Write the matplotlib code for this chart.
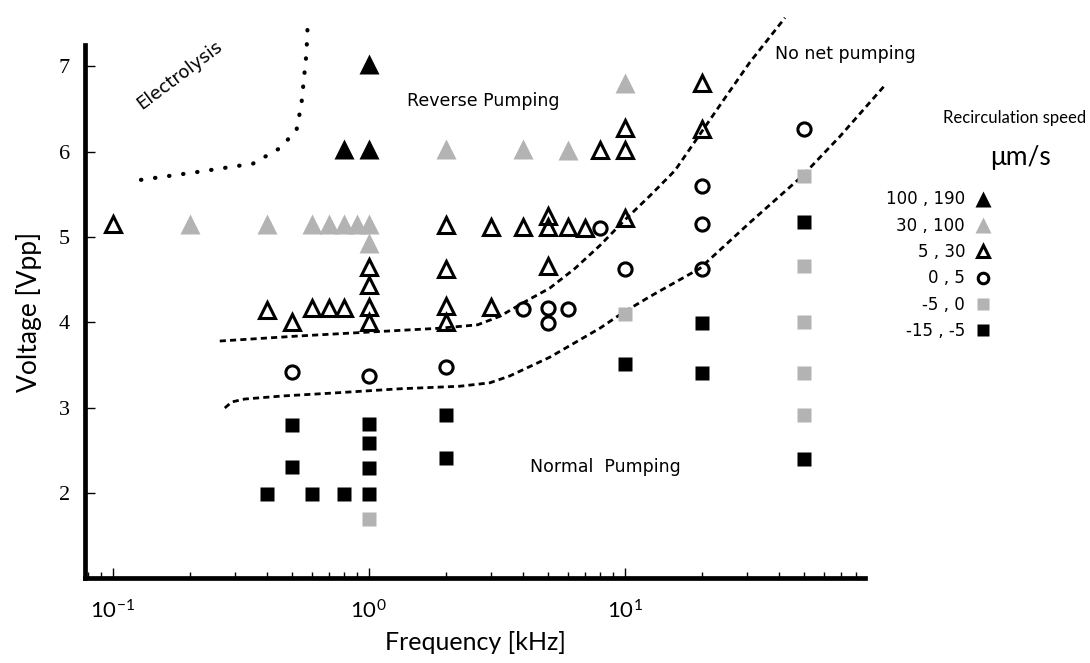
import matplotlib
matplotlib.use("Agg")
import matplotlib.pyplot as plt
from matplotlib.ticker import LogLocator, LogFormatterMathtext, NullFormatter

plt.rcParams['mathtext.fontset'] = 'stix'
plt.rcParams['font.family'] = ['Lato', 'DejaVu Sans']

# recirculation speed classes: (frequency kHz, voltage Vpp)
fast_x = [0.8, 1, 1]
fast_y = [6.03, 6.03, 7.03]

high_x = [0.2, 0.4, 0.6, 0.7, 0.8, 0.9, 1, 1, 2, 4, 6, 10]
high_y = [5.15, 5.15, 5.15, 5.15, 5.15, 5.15, 5.15, 4.93, 6.03, 6.03, 6.02, 6.8]

mid_x = [0.1, 0.4, 0.5, 0.6, 0.7, 0.8, 1, 1, 1, 1, 2, 2, 2, 2, 3, 3, 4,
         5, 5, 5, 6, 7, 8, 10, 10, 10, 20, 20]
mid_y = [5.15, 4.14, 4.0, 4.17, 4.17, 4.17, 4.65, 4.44, 4.18, 4.0, 5.14, 4.63,
         4.19, 4.0, 5.12, 4.18, 5.12, 5.25, 5.12, 4.66, 5.12, 5.1, 6.02, 6.02,
         6.28, 5.22, 6.8, 6.27]

low_x = [0.5, 1, 2, 4, 5, 5, 6, 8, 10, 20, 20, 20, 50]
low_y = [3.42, 3.37, 3.48, 4.16, 4.17, 3.99, 4.15, 5.1, 4.62, 5.6, 5.15, 4.63, 6.27]

neg_x = [1, 10, 50, 50, 50, 50, 50]
neg_y = [1.69, 4.1, 5.72, 4.66, 4.0, 3.4, 2.91]

back_x = [0.4, 0.5, 0.5, 0.6, 0.8, 1, 1, 1, 1, 2, 2, 10, 20, 20, 50, 50]
back_y = [1.99, 2.8, 2.3, 1.99, 1.99, 2.81, 2.58, 2.29, 1.99, 2.91, 2.41, 3.51,
          3.99, 3.4, 5.18, 2.4]

legend_labels = ['100 , 190', '30 , 100', '5 , 30', '0 , 5', '-5 , 0', '-15 , -5']

# boundary lines
upper_x = [0.262, 0.538, 1.0, 1.89, 2.66, 3.25, 4.07, 5.09, 6.38, 7.99, 10,
           12.5, 15.7, 19.6, 24.6, 30.8, 42.2]
upper_y = [3.78, 3.84, 3.885, 3.93, 3.97, 4.07, 4.24, 4.40, 4.63, 4.90, 5.20,
           5.48, 5.78, 6.20, 6.63, 7.05, 7.57]
lower_x = [0.274, 0.292, 0.328, 0.461, 0.723, 1.32, 2.27, 2.97, 3.55, 5.09,
           7.99, 9.8, 12.5, 19.6, 30.8, 49.1, 69.2, 103.7]
lower_y = [2.995, 3.066, 3.10, 3.136, 3.17, 3.22, 3.25, 3.29, 3.37, 3.59,
           3.93, 4.11, 4.30, 4.63, 5.17, 5.71, 6.18, 6.78]
elec_x = [0.129, 0.212, 0.353, 0.449, 0.522, 0.546, 0.571, 0.579]
elec_y = [5.67, 5.76, 5.86, 6.04, 6.25, 6.56, 7.15, 7.57]

GRAY = '#b3b3b3'
NOTE_FONT = ['DejaVu Sans']

fig = plt.figure(figsize=(10.9, 6.63), dpi=100)
ax = fig.add_axes([0.078, 0.128, 0.716, 0.804])

dash = (0, (2.2, 1.5))
ax.plot(upper_x, upper_y, color='black', lw=2.0, linestyle=dash, clip_on=False, zorder=2)
ax.plot(lower_x, lower_y, color='black', lw=2.0, linestyle=dash, clip_on=False, zorder=2)
ax.plot(elec_x, elec_y, color='black', lw=3.0, linestyle=(0, (0.1, 3.3)),
        dash_capstyle='round', clip_on=False, zorder=2)

h1, = ax.plot(fast_x, fast_y, '^', color='black', ms=15, mec='none', zorder=3)
h2, = ax.plot(high_x, high_y, '^', color=GRAY, ms=15, mec='none', zorder=3)
h3, = ax.plot(mid_x, mid_y, '^', mfc='none', mec='black', ms=11.5, mew=2.2, zorder=4)
h4, = ax.plot(low_x, low_y, 'o', mfc='none', mec='black', ms=9.5, mew=2.2, zorder=4)
h5, = ax.plot(neg_x, neg_y, 's', color=GRAY, ms=10, mec='none', zorder=3)
h6, = ax.plot(back_x, back_y, 's', color='black', ms=10, mec='none', zorder=3)

ax.set_xscale('log')
ax.set_xlim(0.078, 87)
ax.set_ylim(1.0, 7.25)
ax.set_yticks([2, 3, 4, 5, 6, 7])
ax.xaxis.set_major_locator(LogLocator(base=10))
ax.xaxis.set_major_formatter(LogFormatterMathtext())
ax.xaxis.set_minor_locator(LogLocator(base=10, subs=range(2, 10)))
ax.xaxis.set_minor_formatter(NullFormatter())

for side in ['top', 'right']:
    ax.spines[side].set_visible(False)
for side in ['left', 'bottom']:
    ax.spines[side].set_linewidth(3.4)
ax.tick_params(axis='both', which='major', direction='in', length=7, width=1,
               labelsize=16)
ax.tick_params(axis='x', which='minor', direction='in', length=4, width=1)
ax.tick_params(axis='y', pad=11)
ax.tick_params(axis='x', pad=15)
for lab in ax.get_yticklabels():
    lab.set_family('Liberation Serif')

ax.set_xlabel('Frequency [kHz]', fontsize=18, labelpad=6)
ax.set_ylabel('Voltage [Vpp]', fontsize=19, labelpad=12)

ax.text(0.183, 6.9, 'Electrolysis', rotation=37, fontsize=13,
        ha='center', va='center', family=NOTE_FONT)
ax.text(2.81, 6.59, 'Reverse Pumping', fontsize=12.5, ha='center', va='center',
        family=NOTE_FONT)
ax.text(38.5, 7.15, 'No net pumping', fontsize=12.5, ha='left', va='center',
        family=NOTE_FONT)
ax.text(8.43, 2.30, 'Normal  Pumping', fontsize=12.5, ha='center', va='center',
        family=NOTE_FONT)

fig.text(1015 / 1090, 1 - 118 / 663, 'Recirculation speed', fontsize=12,
         ha='center', va='center')
fig.text(1020 / 1090, 1 - 157 / 663, 'μm/s', fontsize=19,
         ha='center', va='center')

ax.legend([h1, h2, h3, h4, h5, h6], legend_labels, markerfirst=False,
          frameon=False, loc='upper right', bbox_to_anchor=(1000 / 1090, 1 - 182 / 663),
          bbox_transform=fig.transFigure, handlelength=1.0, handletextpad=0.6,
          labelspacing=0.5, markerscale=0.8, borderpad=0,
          prop={'family': ['Liberation Sans Narrow', 'DejaVu Sans'], 'size': 12})

fig.savefig('out.png', dpi=100)
